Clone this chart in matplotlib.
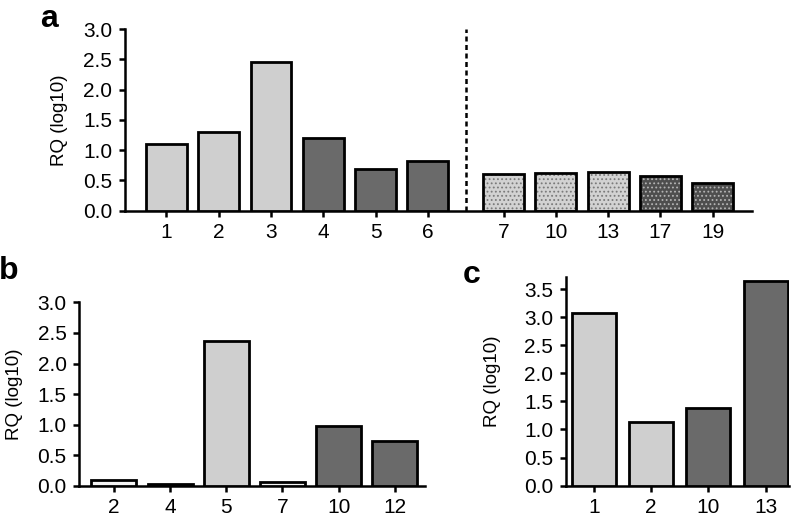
import numpy as np
import matplotlib
matplotlib.use("Agg")
import matplotlib.pyplot as plt

plt.rcParams['font.family'] = ['Liberation Sans', 'DejaVu Sans']
plt.rcParams['hatch.linewidth'] = 0.8

# panel a
a_labels = ['1', '2', '3', '4', '5', '6', '7', '10', '13', '17', '19']
a_values = [1.10, 1.30, 2.45, 1.20, 0.68, 0.82, 0.60, 0.62, 0.63, 0.57, 0.46]
a_kind = ['light', 'light', 'light', 'dark', 'dark', 'dark',
          'light_dot', 'light_dot', 'light_dot', 'dark_dot', 'dark_dot']

# panel b
b_labels = ['2', '4', '5', '7', '10', '12']
b_values = [0.09, 0.04, 2.37, 0.07, 0.98, 0.73]
b_kind = ['white', 'dark', 'light', 'white', 'dark', 'dark']

# panel c
c_labels = ['1', '2', '10', '13']
c_values = [3.07, 1.13, 1.38, 3.65]
c_kind = ['light', 'light', 'dark', 'dark']

FACE = {'light': '#cfcfcf', 'dark': '#6a6a6a', 'white': '#f4f4f4',
        'light_dot': '#d2d2d2', 'dark_dot': '#4e4e4e'}
DOTS = {'light_dot': '#7a7a7a', 'dark_dot': '#b4b4b4'}

LW = 2.0


def draw_bars(ax, xs, values, kinds, width):
    for x, v, k in zip(xs, values, kinds):
        if k in DOTS:
            ax.bar(x, v, width, color=FACE[k], edgecolor=DOTS[k], hatch='....',
                   linewidth=0, zorder=2)
            ax.bar(x, v, width, fill=False, edgecolor='black', linewidth=LW, zorder=3)
        else:
            ax.bar(x, v, width, color=FACE[k], edgecolor='black', linewidth=LW, zorder=3)


def style(ax):
    for s in ['top', 'right']:
        ax.spines[s].set_visible(False)
    for s in ['left', 'bottom']:
        ax.spines[s].set_linewidth(1.8)
    ax.tick_params(direction='out', length=4, width=1.8, labelsize=15, pad=5)
    ax.set_ylabel('RQ (log10)', fontsize=13.5)


fig = plt.figure(figsize=(7.99, 5.20), dpi=100)

# a
ax_a = fig.add_axes([0.156, 0.595, 0.785, 0.349])
xa = list(np.arange(6)) + list(np.arange(5) + 6.45)
draw_bars(ax_a, xa, a_values, a_kind, 0.78)
ax_a.plot([5.725, 5.725], [0, 3.0], color='black', lw=1.8,
          linestyle=(0, (2.0, 1.4)), zorder=4, clip_on=False)
ax_a.set_xlim(-0.80, 11.2)
ax_a.set_ylim(0, 3.0)
ax_a.set_xticks(xa)
ax_a.set_xticklabels(a_labels)
ax_a.set_yticks(np.arange(0, 3.01, 0.5))
ax_a.set_yticklabels(['%.1f' % t for t in np.arange(0, 3.01, 0.5)])
style(ax_a)
ax_a.yaxis.set_label_coords(-0.091, 0.5)

# b
ax_b = fig.add_axes([0.099, 0.0654, 0.433, 0.3533])
xb = np.arange(len(b_labels))
draw_bars(ax_b, xb, b_values, b_kind, 0.8)
ax_b.set_xlim(-0.62, 5.54)
ax_b.set_ylim(0, 3.0)
ax_b.set_xticks(xb)
ax_b.set_xticklabels(b_labels)
ax_b.set_yticks(np.arange(0, 3.01, 0.5))
ax_b.set_yticklabels(['%.1f' % t for t in np.arange(0, 3.01, 0.5)])
style(ax_b)
ax_b.yaxis.set_label_coords(-0.162, 0.5)

# c
ax_c = fig.add_axes([0.708, 0.066, 0.279, 0.402])
xc = np.arange(len(c_labels))
draw_bars(ax_c, xc, c_values, c_kind, 0.77)
ax_c.set_xlim(-0.49, 3.40)
ax_c.set_ylim(0, 3.72)
ax_c.set_xticks(xc)
ax_c.set_xticklabels(c_labels)
ax_c.set_yticks(np.arange(0, 3.51, 0.5))
ax_c.set_yticklabels(['%.1f' % t for t in np.arange(0, 3.51, 0.5)])
style(ax_c)
ax_c.yaxis.set_label_coords(-0.288, 0.5)

fig.text(49 / 799, 1 - 19 / 520, 'a', fontsize=23, fontweight='bold', ha='center', va='center')
fig.text(9 / 799, 1 - 271 / 520, 'b', fontsize=23, fontweight='bold', ha='center', va='center')
fig.text(472 / 799, 1 - 275 / 520, 'c', fontsize=23, fontweight='bold', ha='center', va='center')

fig.savefig('out.png', dpi=100)
